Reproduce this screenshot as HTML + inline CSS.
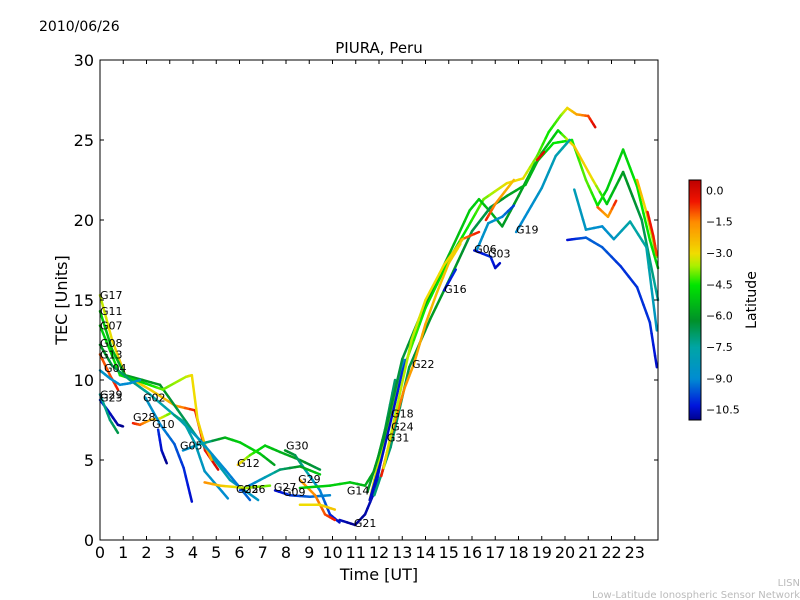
<!DOCTYPE html>
<html><head><meta charset="utf-8"><style>
html,body{margin:0;padding:0;background:#fff;}
svg{display:block;font-family:"DejaVu Sans","Liberation Sans",sans-serif;}
</style></head><body>
<svg id="chart" width="800" height="600" viewBox="0 0 800 600" xmlns="http://www.w3.org/2000/svg">
<rect width="800" height="600" fill="#fff"/>
<text x="39" y="31" font-size="14">2010/06/26</text>
<text x="379" y="53" font-size="15" text-anchor="middle">PIURA, Peru</text>
<g id="tracks"></g>
<g id="labels" font-size="11"></g>
<rect x="100" y="60" width="558" height="480" fill="none" stroke="#000" stroke-width="1"/>
<g id="axes"></g>
<text x="379" y="580" font-size="16" text-anchor="middle">Time [UT]</text>
<text transform="translate(67,300) rotate(-90)" font-size="16" text-anchor="middle">TEC [Units]</text>
<g id="cbar"></g>
<text transform="translate(756,300) rotate(-90)" font-size="14" text-anchor="middle">Latitude</text>
<text x="800" y="586" font-size="10" fill="#bbb" text-anchor="end">LISN</text>
<text x="800" y="598" font-size="10" fill="#bbb" text-anchor="end">Low-Latitude Ionospheric Sensor Network</text>
</svg>
<script>
const xTicks=[0,1,2,3,4,5,6,7,8,9,10,11,12,13,14,15,16,17,18,19,20,21,22,23];
const yTicks=[0,5,10,15,20,25,30];
const cbTicks=[0,-1.5,-3,-4.5,-6,-7.5,-9,-10.5];
const latMin=-11, latMax=0.5;
// tracks: time (h), TEC, latitude
const trackTimes=[
[0,0.52,1.08,2.15,3.23,4.09,4.52,5.08],
[0,0.52,1.08,2.58,4.09,5.59,6.8],
[0,0.86,1.72,2.7,3.7,3.95,4.2,4.5,4.8],
[0,0.52,1.29,2.15,3.44,4.3,5.38,6.45],
[0,0.43,0.77],
[0,0.43,0.86,1.29,1.72],
[0,0.34,0.77,0.99],
[0,0.43,0.77],
[1.42,1.72,2.15,2.58,3.0],
[2.5,2.65,2.87],
[1.95,2.6,3.2,3.6,3.95],
[3.2,3.6,4.1,4.5,5.5],
[3.57,4.3,5.38,6.02,6.88,7.5],
[5.93,6.45,7.1,7.74,8.6,9.46],
[7.96,8.39,8.82,9.46,9.89,10.3],
[6.02,6.88,7.74,8.6,9.46],
[4.5,5.16,6.24,7.31],
[7.53,8.17,9.03,9.89],
[8.6,9.25,9.68,10.1],
[8.6,9.89,10.75,11.4,11.83,12.26,12.69],
[8.6,9.46,10.1],
[10.3,10.97,11.4,11.83,12.26,12.69,13.1],
[11.6,12.0,13.0,14.0,15.0,15.8,16.5,17.5,18.2,18.8,19.3,19.8,20.1,20.5,21.0,21.3],
[11.5,12.2,13.0,14.0,15.0,15.9,16.3,16.8,17.3,18.0,18.7,19.5,20.3,20.9,21.4,21.8,22.5,23.1,23.65,24.0],
[11.8,12.5,13.3,14.2,15.2,16.0,16.8,17.5,18.3,19.0,19.7,20.4,21.2,21.8,22.5,23.3,24.0],
[17.9,18.4,19.0,19.6,20.2],
[16.2,16.7,17.3,17.8],
[16.1,16.8,17.0,17.2],
[14.8,15.3],
[20.4,20.9,21.6,22.1,22.8,23.5,23.95],
[20.1,20.9,21.6,22.4,23.1,23.65,23.95],
[23.1,23.5,23.95],
[23.55,23.8,23.95],
[21.4,21.85,22.2],
[16.6,17.0,17.8],
[15.5,16.3],
[18.8,19.1],
[12.1,12.6,13.1,13.5,14.0,14.5,15.0,15.5],
[11.6,12.1,12.6,13.0,13.2],
[12.2,12.8,13.4,14.0,14.8,15.6]
];
const trackTec=[
[15.3,12.5,10.3,9.4,8.4,8.1,5.6,4.4],
[14.3,11.9,10.3,9.7,6.6,3.75,2.5],
[13.4,10.3,9.9,9.4,10.2,10.3,7.5,6.0,5.0],
[12.2,10.9,10.0,9.1,7.5,6.25,4.4,2.5],
[11.6,10.3,9.4],
[10.6,10.1,9.7,9.8,10.0],
[8.75,8.1,7.2,7.1],
[9.1,7.5,6.7],
[7.3,7.2,7.5,7.6,7.9],
[6.9,5.6,4.8],
[8.9,7.2,6.0,4.5,2.4],
[7.8,7.4,6.0,4.3,2.6],
[5.6,6.0,6.4,6.1,5.4,4.7],
[4.7,5.3,5.9,5.5,5.0,4.4],
[5.6,5.3,4.4,3.1,1.6,1.1],
[3.1,3.75,4.4,4.6,4.1],
[3.6,3.4,3.25,3.4],
[3.1,2.8,2.7,2.8],
[3.75,2.8,1.6,1.25],
[3.25,3.4,3.6,3.4,4.4,6.9,10.0],
[2.2,2.2,1.9],
[1.25,0.94,1.6,3.1,6.25,9.1,11.25],
[2.5,5.0,10.5,14.5,17.5,19.5,21.3,22.3,22.6,24.0,25.5,26.5,27.0,26.6,26.5,25.8],
[3.0,6.3,11.3,14.8,17.8,20.6,21.3,20.5,19.6,21.5,23.5,24.8,25.0,22.5,20.9,21.9,24.4,22.1,18.75,17.0],
[2.8,5.8,10.8,13.8,16.8,19.3,20.8,21.5,22.2,24.2,25.6,24.6,22.5,21.0,23.0,20.0,15.0],
[19.25,20.5,22.0,24.0,25.0],
[18.1,19.8,20.2,20.9],
[18.1,17.7,17.0,17.3],
[15.6,16.9],
[21.9,19.4,19.6,18.8,19.9,18.3,13.1],
[18.75,18.9,18.3,17.1,15.8,13.6,10.8],
[22.5,20.5,17.7],
[20.5,19.0,17.8],
[20.8,20.2,21.2],
[20.0,21.0,22.5],
[18.75,19.25],
[23.75,24.25],
[4.0,7.0,9.5,11.0,13.5,15.5,17.3,18.5],
[2.5,5.0,8.0,10.5,11.3],
[4.5,8.5,12.5,15.0,17.2,18.8]
];
const trackLat=[
[-3.5,-3,-2.5,-2.8,-2,-0.5,-0.5,0],
[-5,-5.5,-6,-6,-7,-8,-8.5],
[-5,-4.5,-5,-4,-3.5,-3,-3,-2.5,-2],
[-6,-6.5,-7,-7.5,-8,-8.5,-9,-9.5],
[-1,-1,-0.5],
[-8.5,-8.8,-9,-9,-8.5],
[-10,-10.5,-10.8,-11],
[-7.5,-7,-6.5],
[-0.5,-1,-2,-3,-4],
[-10,-10.5,-11],
[-8.5,-9,-9.5,-10,-10.5],
[-7,-7.5,-8,-8.5,-9],
[-9,-8,-5.5,-5,-5,-6],
[-2.5,-4,-5,-5.5,-6,-6.5],
[-6,-6.5,-7.5,-9,-10,-10.5],
[-10,-8.5,-7,-6,-5],
[-1.5,-2.5,-3.5,-4],
[-10.5,-10,-9.5,-9],
[-2,-1.5,-1,-0.5],
[-5,-5,-5,-5.5,-6,-6.5,-7],
[-3,-3,-2.5],
[-10.5,-11,-10.8,-10.5,-10,-9.5,-9],
[-3,-3.5,-4,-4.5,-4.5,-4.5,-4,-3,-3,-4,-4.5,-4,-3,-2,-1,0],
[-6,-6,-6.5,-6,-5.5,-5,-5,-5.5,-6,-6,-5.5,-4.5,-4.5,-4,-4.5,-5,-5,-4.5,-4.5,-5],
[-7,-7,-6.5,-6,-6,-6.5,-6.5,-6,-5.5,-5.5,-5,-2.5,-3,-5,-6,-6.5,-7.5],
[-9,-9,-8.5,-8,-7.5],
[-9,-8.5,-9,-10],
[-10.5,-10,-10.5,-10.5],
[-10.5,-10],
[-8,-8.5,-9,-8.5,-7.5,-7.5,-8.5],
[-10.5,-9.5,-9.5,-10,-10,-10,-10.5],
[-2,-3,-4],
[-0.5,-0.5,-1],
[-1,-2,-0.5],
[-0.5,-1.5,-2.5],
[-1.5,-0.5],
[-0.5,0],
[-0.5,-1,-1.5,-2,-2,-2.5,-2.5,-3],
[-10.5,-10.5,-10.5,-10,-10],
[-3,-3.5,-3.5,-3,-3,-2.5]
];
const labelNames=["G17","G11","G07","G08","G13","G04","G29","G23","G02","G28","G10","G05","G12","G30","G25","G26","G27","G09","G29","G14","G21","G22","G18","G24","G31","G16","G06","G03","G19"];
const labelTimes=[0,0,0,0,0,0.17,0,0,1.85,1.42,2.24,3.44,5.9,8.0,5.85,6.15,7.48,7.87,8.52,10.62,10.92,13.42,12.52,12.52,12.34,14.8,16.09,16.69,17.89];
const labelTec=[15.3,14.3,13.4,12.3,11.6,10.75,9.1,8.9,8.9,7.7,7.25,5.9,4.8,5.9,3.2,3.2,3.3,3.0,3.8,3.1,1.06,11.0,7.9,7.1,6.4,15.7,18.2,17.9,19.4];

const X0=100,X1=658,Y0=540,Y1=60;
const xs=t=>X0+t*(X1-X0)/24;
const ys=v=>Y0-v*(Y0-Y1)/30;
const NS="http://www.w3.org/2000/svg";
const cmap=[[-11,[0,0,140]],[-10.3,[0,20,220]],[-9,[0,140,210]],[-7.5,[0,165,165]],[-6.2,[0,145,40]],[-4.5,[0,230,0]],[-3.6,[170,240,0]],[-3,[240,220,0]],[-1.5,[255,140,0]],[-0.5,[240,20,0]],[0.5,[190,0,0]]];
function jet(v){
  v=Math.max(latMin,Math.min(latMax,v));
  for(let i=0;i<cmap.length-1;i++){
    const a=cmap[i],b=cmap[i+1];
    if(v<=b[0]){const f=(v-a[0])/(b[0]-a[0]);
      const c=a[1].map((x,j)=>Math.round(x+(b[1][j]-x)*f));
      return `rgb(${c[0]},${c[1]},${c[2]})`;}
  }
  return 'rgb(190,0,0)';
}
const tg=document.getElementById('tracks');
trackTimes.forEach((tt,i)=>{
  const te=trackTec[i], la=trackLat[i];
  for(let k=0;k<tt.length-1;k++){
    const n=4;
    for(let s=0;s<n;s++){
      const a=s/n,b=(s+1)/n;
      const l=document.createElementNS(NS,'line');
      
      
      l.setAttribute('x1',xs(tt[k]+(tt[k+1]-tt[k])*a));
      l.setAttribute('y1',ys(te[k]+(te[k+1]-te[k])*a));
      l.setAttribute('x2',xs(tt[k]+(tt[k+1]-tt[k])*b));
      l.setAttribute('y2',ys(te[k]+(te[k+1]-te[k])*b));
      l.setAttribute('stroke',jet(la[k]+(la[k+1]-la[k])*(a+b)/2));
      l.setAttribute('stroke-width','2.5');
      l.setAttribute('stroke-linecap','round');
      tg.appendChild(l);
    }
  }
});
const lg=document.getElementById('labels');
labelNames.forEach((n,i)=>{
  const t=document.createElementNS(NS,'text');
  
  
  t.setAttribute('x',xs(labelTimes[i]));
  t.setAttribute('y',ys(labelTec[i])+4);
  t.textContent=n;lg.appendChild(t);
});
const ag=document.getElementById('axes');
xTicks.forEach(v=>{
  const x=xs(v);
  [[Y0,Y0-4],[Y1,Y1+4]].forEach(p=>{
    const l=document.createElementNS(NS,'line');
    
    
    l.setAttribute('x1',x);l.setAttribute('x2',x);l.setAttribute('y1',p[0]);l.setAttribute('y2',p[1]);
    l.setAttribute('stroke','#000');ag.appendChild(l);
  });
  const t=document.createElementNS(NS,'text');
  
  
  t.setAttribute('x',x);t.setAttribute('y',558);t.setAttribute('font-size','16');t.setAttribute('text-anchor','middle');
  t.textContent=v;ag.appendChild(t);
});
yTicks.forEach(v=>{
  const y=ys(v);
  [[X0,X0+4],[X1,X1-4]].forEach(p=>{
    const l=document.createElementNS(NS,'line');
    
    
    l.setAttribute('x1',p[0]);l.setAttribute('x2',p[1]);l.setAttribute('y1',y);l.setAttribute('y2',y);
    l.setAttribute('stroke','#000');ag.appendChild(l);
  });
  const t=document.createElementNS(NS,'text');
  
  
  t.setAttribute('x',94);t.setAttribute('y',y+6);t.setAttribute('font-size','16');t.setAttribute('text-anchor','end');
  t.textContent=v;ag.appendChild(t);
});
const cg=document.getElementById('cbar');
const CB0=420,CB1=180,CX=689,CW=12;
const cy=v=>CB0-(v-latMin)*(CB0-CB1)/(latMax-latMin);
for(let i=0;i<120;i++){
  const v0=latMin+(latMax-latMin)*i/120, v1=latMin+(latMax-latMin)*(i+1)/120;
  const r=document.createElementNS(NS,'rect');
  
  
  r.setAttribute('x',CX);r.setAttribute('width',CW);
  r.setAttribute('y',cy(v1));r.setAttribute('height',cy(v0)-cy(v1)+0.5);
  r.setAttribute('fill',jet((v0+v1)/2));cg.appendChild(r);
}
const fr=document.createElementNS(NS,'rect');


fr.setAttribute('x',CX);fr.setAttribute('y',CB1);fr.setAttribute('width',CW);fr.setAttribute('height',CB0-CB1);
fr.setAttribute('fill','none');fr.setAttribute('stroke','#000');cg.appendChild(fr);
cbTicks.forEach(v=>{
  const t=document.createElementNS(NS,'text');
  
  
  t.setAttribute('x',706);t.setAttribute('y',cy(v)+4);t.setAttribute('font-size','11');
  t.textContent=(v===0?'0.0':'\u2212'+Math.abs(v).toFixed(1));cg.appendChild(t);
});
</script>
</body></html>
